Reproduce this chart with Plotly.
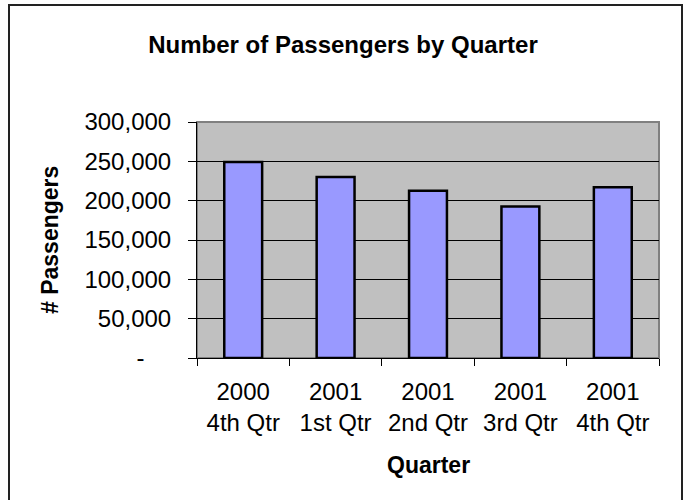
import plotly.graph_objects as go

quarters = ["2000<br>4th Qtr", "2001<br>1st Qtr", "2001<br>2nd Qtr", "2001<br>3rd Qtr", "2001<br>4th Qtr"]
passengers = [249000, 230000, 212500, 192500, 217000]
ytick_vals = [0, 50000, 100000, 150000, 200000, 250000, 300000]
ytick_text = ["-\u00a0\u00a0\u00a0\u00a0", "50,000", "100,000", "150,000", "200,000", "250,000", "300,000"]

W, H = 686, 500
L, R, T, B = 197, 27, 122, 142
pw, ph = W - L - R, H - T - B

def px_x(x):
    return (x - L) / pw

def px_y(y):
    return (H - B - y) / ph

font = "Liberation Sans, Arial, sans-serif"

fig = go.Figure(go.Bar(
    x=quarters, y=passengers,
    marker=dict(color="#9999FF", line=dict(color="black", width=2.5)),
))

fig.update_layout(
    width=W, height=H,
    margin=dict(l=L, r=R, t=T, b=B),
    paper_bgcolor="white", plot_bgcolor="#C0C0C0",
    bargap=0.59,
    showlegend=False,
    font=dict(family=font, size=24, color="black"),
    title=dict(text="<b>Number of Passengers by Quarter</b>", x=0.5, xanchor="center",
               xref="container", yref="container", y=1 - 45 / H, yanchor="middle",
               font=dict(size=24, family=font, color="black")),
    xaxis=dict(showline=True, linecolor="black", linewidth=1, ticks="outside",
               tickson="boundaries", ticklen=7, tickcolor="black", showgrid=False,
               ticklabelstandoff=12, tickfont=dict(size=24)),
    yaxis=dict(range=[0, 300000], tickvals=ytick_vals, ticktext=ytick_text,
               showline=True, linecolor="black", linewidth=1, ticks="outside",
               ticklen=8, tickcolor="black", showgrid=True, gridcolor="black",
               gridwidth=1, zeroline=False, ticklabelstandoff=12, tickfont=dict(size=24)),
    shapes=[
        dict(type="rect", xref="paper", yref="paper", x0=0, x1=1, y0=0, y1=1,
             line=dict(color="#808080", width=2), layer="below"),
        dict(type="rect", xref="paper", yref="paper", x0=px_x(9), x1=px_x(682),
             y0=px_y(503), y1=px_y(5), line=dict(color="#222222", width=2)),
    ],
    annotations=[
        dict(text="<b># Passengers</b>", xref="paper", yref="paper", x=px_x(50), y=0.5,
             textangle=-90, showarrow=False, xanchor="center", yanchor="middle",
             font=dict(size=23, family=font)),
        dict(text="<b>Quarter</b>", xref="paper", yref="paper", x=0.5, y=px_y(465),
             showarrow=False, xanchor="center", yanchor="middle",
             font=dict(size=23, family=font)),
    ],
)

fig.write_html("out.html")
